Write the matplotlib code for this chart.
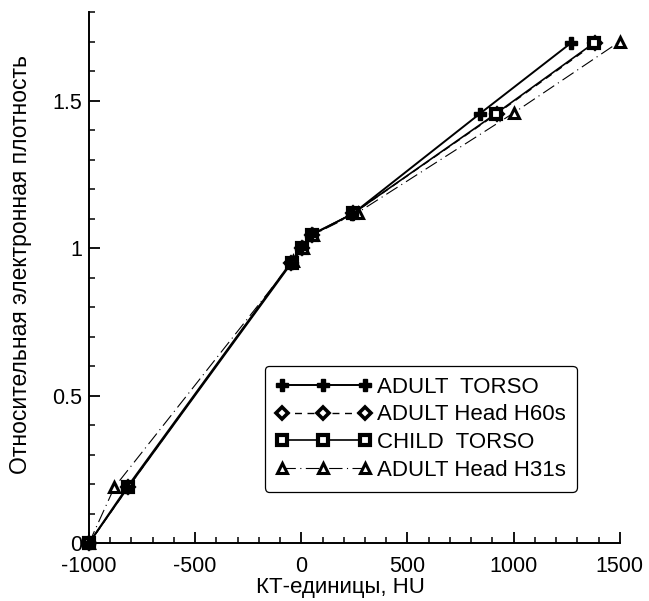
import numpy as np
import matplotlib
matplotlib.use("Agg")
import matplotlib.pyplot as plt
from matplotlib.ticker import MultipleLocator, FormatStrFormatter

# Данные (КТ-единицы HU -> относительная электронная плотность)
hu_adult_torso = [-1000, -820, -50, 0, 45, 240, 840, 1270]
ed_adult_torso = [0, 0.19, 0.95, 1.0, 1.045, 1.115, 1.455, 1.695]

hu_head_h60 = [-1000, -815, -50, 5, 50, 245, 920, 1385]
ed_head_h60 = [0, 0.19, 0.95, 1.0, 1.045, 1.118, 1.455, 1.695]

hu_child_torso = [-1000, -815, -45, 5, 50, 245, 915, 1378]
ed_child_torso = [0, 0.19, 0.95, 1.0, 1.045, 1.118, 1.455, 1.695]

hu_head_h31 = [-1000, -880, -40, 10, 55, 265, 1000, 1500]
ed_head_h31 = [0, 0.19, 0.955, 1.0, 1.045, 1.12, 1.458, 1.70]

labels = ["ADULT  TORSO", "ADULT Head H60s", "CHILD  TORSO", "ADULT Head H31s"]

plt.rcParams['font.family'] = ['Liberation Sans', 'DejaVu Sans']
plt.rcParams['axes.unicode_minus'] = False

fig = plt.figure(figsize=(6.49, 6.01), dpi=100)
ax = fig.add_axes([0.137, 0.096, 0.818, 0.884])

ax.plot(hu_adult_torso, ed_adult_torso, color='black', linestyle='-', linewidth=1.4,
        marker='P', markersize=9, markerfacecolor='black', markeredgecolor='black',
        clip_on=False, label=labels[0], zorder=4)
ax.plot(hu_head_h60, ed_head_h60, color='black', linestyle=(0, (5, 4)), linewidth=1.0,
        marker='D', markersize=6, markerfacecolor='white', markeredgecolor='black',
        markeredgewidth=2.6, clip_on=False, label=labels[1], zorder=3)
ax.plot(hu_child_torso, ed_child_torso, color='black', linestyle='-', linewidth=1.2,
        marker='s', markersize=7, markerfacecolor='white', markeredgecolor='black',
        markeredgewidth=3.0, clip_on=False, label=labels[2], zorder=3)
ax.plot(hu_head_h31, ed_head_h31, color='black', linestyle=(0, (12, 4, 1, 4)), linewidth=0.8,
        marker='^', markersize=7, markerfacecolor='white', markeredgecolor='black',
        markeredgewidth=2.2, clip_on=False, label=labels[3], zorder=3)

ax.set_xlim(-1000, 1500)
ax.set_ylim(0, 1.8)

ax.xaxis.set_major_locator(MultipleLocator(500))
ax.xaxis.set_minor_locator(MultipleLocator(100))
ax.yaxis.set_major_locator(MultipleLocator(0.5))
ax.yaxis.set_minor_locator(MultipleLocator(0.1))
ax.yaxis.set_major_formatter(FormatStrFormatter('%g'))
ax.set_yticks([0, 0.5, 1, 1.5])

ax.spines['top'].set_visible(False)
ax.spines['right'].set_visible(False)
ax.spines['left'].set_linewidth(1.4)
ax.spines['bottom'].set_linewidth(1.4)

ax.tick_params(which='major', direction='in', length=8, width=1.3, labelsize=15.5)
ax.tick_params(which='minor', direction='in', length=4.5, width=1.1)
ax.tick_params(axis='x', which='major', pad=9)
ax.tick_params(axis='y', which='major', pad=5)

ax.set_xlabel('КТ-единицы, HU', fontsize=16)
ax.set_ylabel('Относительная электронная плотность', fontsize=16.5)
ax.xaxis.set_label_coords(0.473, -0.064)
ax.yaxis.set_label_coords(-0.107, 0.524)

leg = ax.legend(loc='lower right', bbox_to_anchor=(0.919, 0.097), numpoints=3,
                fontsize=16, frameon=True, fancybox=True, edgecolor='black',
                handlelength=4.3, handletextpad=0.25, labelspacing=0.3,
                borderpad=0.5, borderaxespad=0, framealpha=1)
leg.get_frame().set_linewidth(0.9)

fig.savefig('out.png', dpi=100)
